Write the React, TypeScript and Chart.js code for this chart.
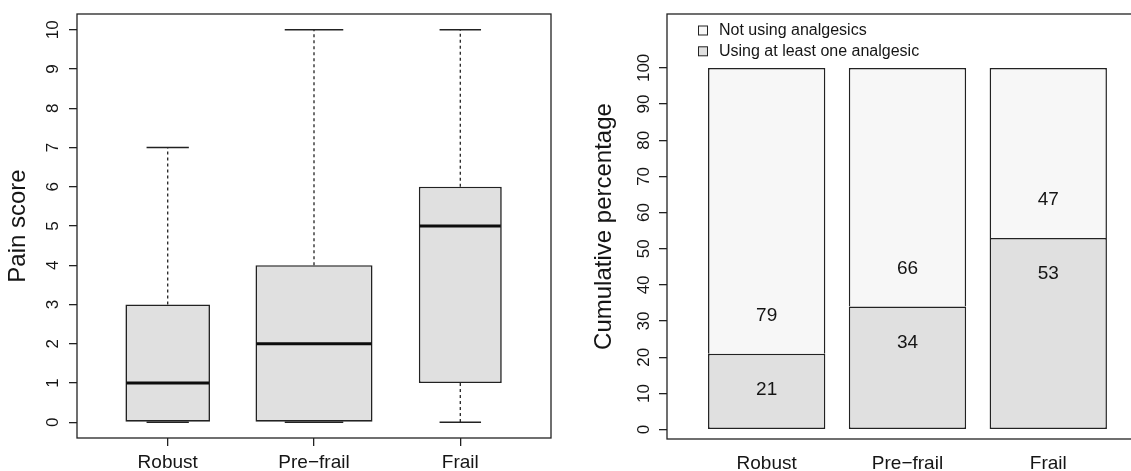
import React, { useEffect, useRef } from 'react';
import { Chart, registerables } from 'chart.js';

Chart.register(...registerables);

// ---------- data ----------
const categories = ['Robust', 'Pre\u2212frail', 'Frail'];

const painMin = [0, 0, 0];
const painQ1 = [0, 0, 1];
const painMedian = [1, 2, 5];
const painQ3 = [3, 4, 6];
const painMax = [7, 10, 10];
const painTicks = [0, 1, 2, 3, 4, 5, 6, 7, 8, 9, 10];

const usingAnalgesic = [21, 34, 53];
const notUsingAnalgesic = [79, 66, 47];
const pctTicks = [0, 10, 20, 30, 40, 50, 60, 70, 80, 90, 100];

const legendLabels = ['Not using analgesics', 'Using at least one analgesic'];

// ---------- styling / layout ----------
const BOX_WIDTHS = [0.578, 0.8, 0.567];
const FONT = '"Liberation Sans", Arial, Helvetica, sans-serif';
const INK = '#222222';
const TEXT = '#151515';
const GRAY = '#e0e0e0';
const LIGHT = '#f7f7f7';

const rFrame = {
  id: 'rFrame',
  afterDraw(chart: any, _args: any, opts: any) {
    const { ctx, chartArea: a, scales } = chart;
    ctx.save();
    ctx.strokeStyle = INK;
    ctx.lineWidth = 1.3;
    ctx.strokeRect(a.left, a.top, a.right - a.left, a.bottom - a.top);

    ctx.fillStyle = TEXT;
    ctx.textAlign = 'center';
    ctx.textBaseline = 'middle';
    // y tick labels (rotated, R style)
    ctx.font = `17px ${FONT}`;
    for (const v of opts.yTicks) {
      const y = scales.y.getPixelForValue(v);
      ctx.save();
      ctx.translate(a.left - opts.yLabelGap, y);
      ctx.rotate(-Math.PI / 2);
      ctx.fillText(String(v), 0, 0);
      ctx.restore();
    }
    // y title
    ctx.font = `24px ${FONT}`;
    ctx.save();
    ctx.translate(a.left - opts.yTitleGap, (a.top + a.bottom) / 2);
    ctx.rotate(-Math.PI / 2);
    ctx.fillText(opts.yTitle, 0, 0);
    ctx.restore();
    // x labels
    ctx.font = `19px ${FONT}`;
    opts.xValues.forEach((xv: number, i: number) => {
      ctx.fillText(categories[i], scales.x.getPixelForValue(xv), a.bottom + opts.xLabelGap);
    });
    ctx.restore();
  },
};

const boxDecor = {
  id: 'boxDecor',
  afterDatasetsDraw(chart: any) {
    const { ctx, scales } = chart;
    const xs = scales.x;
    const ys = scales.y;
    const unit = xs.getPixelForValue(2) - xs.getPixelForValue(1);
    ctx.save();
    categories.forEach((_c, i) => {
      const cx = xs.getPixelForValue(i + 1);
      const half = (BOX_WIDTHS[i] * unit) / 2;
      // median
      ctx.strokeStyle = '#0d0d0d';
      ctx.lineWidth = 3;
      ctx.setLineDash([]);
      const ym = ys.getPixelForValue(painMedian[i]);
      ctx.beginPath();
      ctx.moveTo(cx - half + 1, ym);
      ctx.lineTo(cx + half - 1, ym);
      ctx.stroke();
      // whiskers
      ctx.strokeStyle = INK;
      ctx.lineWidth = 1.3;
      ctx.setLineDash([3, 3]);
      if (painMax[i] > painQ3[i]) {
        ctx.beginPath();
        ctx.moveTo(cx, ys.getPixelForValue(painQ3[i]));
        ctx.lineTo(cx, ys.getPixelForValue(painMax[i]));
        ctx.stroke();
      }
      if (painMin[i] < painQ1[i]) {
        ctx.beginPath();
        ctx.moveTo(cx, ys.getPixelForValue(painQ1[i]));
        ctx.lineTo(cx, ys.getPixelForValue(painMin[i]));
        ctx.stroke();
      }
      // caps
      ctx.setLineDash([]);
      ctx.lineWidth = 1.5;
      const capHalf = half / 2;
      for (const v of [painMin[i], painMax[i]]) {
        const y = ys.getPixelForValue(v);
        ctx.beginPath();
        ctx.moveTo(cx - capHalf, y);
        ctx.lineTo(cx + capHalf, y);
        ctx.stroke();
      }
    });
    ctx.restore();
  },
};

const barDecor = {
  id: 'barDecor',
  afterDatasetsDraw(chart: any) {
    const { ctx, scales } = chart;
    const xs = scales.x;
    const ys = scales.y;
    ctx.save();
    ctx.fillStyle = TEXT;
    ctx.font = `19px ${FONT}`;
    ctx.textAlign = 'center';
    ctx.textBaseline = 'middle';
    categories.forEach((_c, i) => {
      const cx = xs.getPixelForValue(i);
      const b = usingAnalgesic[i];
      ctx.fillText(String(usingAnalgesic[i]), cx, ys.getPixelForValue(b - 10));
      ctx.fillText(String(notUsingAnalgesic[i]), cx, ys.getPixelForValue(b + 10.5));
    });
    // legend
    const fills = [LIGHT, GRAY];
    ctx.font = `16px ${FONT}`;
    ctx.textAlign = 'left';
    legendLabels.forEach((lab, k) => {
      const y = 30.5 + k * 20.8;
      ctx.fillStyle = fills[k];
      ctx.fillRect(138, y - 4.5, 9, 9);
      ctx.strokeStyle = INK;
      ctx.lineWidth = 1;
      ctx.strokeRect(138.5, y - 4.5, 9, 9);
      ctx.fillStyle = TEXT;
      ctx.fillText(lab, 159, y + 0.5);
    });
    ctx.restore();
  },
};

function fixTicks(values: number[]) {
  return (scale: any) => {
    scale.ticks = values.map((v) => ({ value: v }));
  };
}

export default function App() {
  const leftRef = useRef<HTMLCanvasElement>(null);
  const rightRef = useRef<HTMLCanvasElement>(null);

  useEffect(() => {
    const left = new Chart(leftRef.current as HTMLCanvasElement, {
      type: 'bar',
      data: {
        datasets: categories.map((c, i) => ({
          label: c,
          data: [{ x: i + 1, y: [painQ1[i], painQ3[i]] }] as any,
          grouped: false,
          barPercentage: BOX_WIDTHS[i],
          categoryPercentage: 1,
          backgroundColor: GRAY,
          borderColor: INK,
          borderWidth: 1.6,
          borderSkipped: false,
        })),
      },
      options: {
        responsive: false,
        animation: false,
        layout: { padding: { left: 0, right: 9, top: 14, bottom: 0 } },
        plugins: {
          legend: { display: false },
          tooltip: { enabled: false },
          rFrame: {
            yTicks: painTicks,
            yLabelGap: 24,
            yTitle: 'Pain score',
            yTitleGap: 58.5,
            xValues: [1, 2, 3],
            xLabelGap: 25,
          },
        } as any,
        scales: {
          x: {
            type: 'linear',
            offset: false,
            min: 0.38,
            max: 3.62,
            afterBuildTicks: fixTicks([1, 2, 3]),
            afterFit: (s: any) => { s.height = 33; },
            ticks: { display: false },
            border: { display: false },
            grid: { display: true, offset: false, drawOnChartArea: false, drawTicks: true, tickLength: 8, color: INK, lineWidth: 1.3 },
          },
          y: {
            type: 'linear',
            min: -0.4,
            max: 10.4,
            afterBuildTicks: fixTicks(painTicks),
            afterFit: (s: any) => { s.width = 77; },
            ticks: { display: false },
            border: { display: false },
            grid: { display: true, drawOnChartArea: false, drawTicks: true, tickLength: 8, color: INK, lineWidth: 1.3 },
          },
        },
      },
      plugins: [rFrame, boxDecor],
    });

    const right = new Chart(rightRef.current as HTMLCanvasElement, {
      type: 'bar',
      data: {
        datasets: [
          {
            label: legendLabels[1],
            data: usingAnalgesic.map((v, i) => ({ x: i, y: v })) as any,
            backgroundColor: GRAY,
            borderColor: INK,
            borderWidth: 1.5,
            borderSkipped: false,
            barPercentage: 1 / 1.2,
            categoryPercentage: 1,
          },
          {
            label: legendLabels[0],
            data: notUsingAnalgesic.map((v, i) => ({ x: i, y: v })) as any,
            backgroundColor: LIGHT,
            borderColor: INK,
            borderWidth: 1.5,
            borderSkipped: 'start',
            barPercentage: 1 / 1.2,
            categoryPercentage: 1,
          },
        ],
      },
      options: {
        responsive: false,
        animation: false,
        layout: { padding: { left: 0, right: 5, top: 14, bottom: 0 } },
        plugins: {
          legend: { display: false },
          tooltip: { enabled: false },
          rFrame: {
            yTicks: pctTicks,
            yLabelGap: 22.5,
            yTitle: 'Cumulative percentage',
            yTitleGap: 62.5,
            xValues: [0, 1, 2],
            xLabelGap: 24.5,
          },
        } as any,
        scales: {
          x: {
            type: 'linear',
            stacked: true,
            offset: false,
            min: -0.708,
            max: 2.616,
            afterBuildTicks: fixTicks([0, 1, 2]),
            afterFit: (s: any) => { s.height = 32; },
            ticks: { display: false },
            border: { display: false },
            grid: { display: false, offset: false },
          },
          y: {
            type: 'linear',
            stacked: true,
            min: -2.6,
            max: 114.9,
            afterBuildTicks: fixTicks(pctTicks),
            afterFit: (s: any) => { s.width = 107; },
            ticks: { display: false },
            border: { display: false },
            grid: { display: true, drawOnChartArea: false, drawTicks: true, tickLength: 8, color: INK, lineWidth: 1.3 },
          },
        },
      },
      plugins: [rFrame, barDecor],
    });

    return () => {
      left.destroy();
      right.destroy();
    };
  }, []);

  return (
    <div
      style={{
        position: 'fixed',
        left: 0,
        top: 0,
        width: 1131,
        height: 471,
        overflow: 'hidden',
        background: '#fff',
      }}
    >
      <canvas ref={leftRef} width={560} height={471} style={{ position: 'absolute', left: 0, top: 0 }} />
      <canvas ref={rightRef} width={580} height={471} style={{ position: 'absolute', left: 560, top: 0 }} />
    </div>
  );
}
